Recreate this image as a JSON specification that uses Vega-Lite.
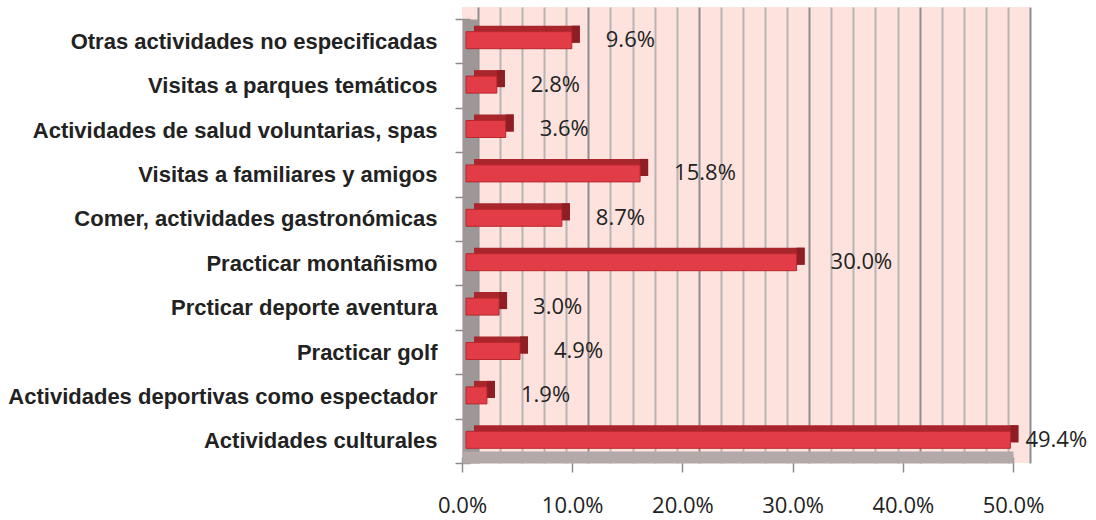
{
  "$schema": "https://vega.github.io/schema/vega-lite/v6.json",
  "width": 568,
  "height": 456,
  "autosize": {"type": "none"},
  "padding": {"left": 462, "top": 7, "right": 66, "bottom": 57},
  "background": "white",
  "config": {
    "view": {"stroke": null, "fill": "#fde2de"},
    "font": "Open Sans"
  },
  "data": {
    "values": [
      {"actividad": "Otras actividades no especificadas", "v": 0.096},
      {"actividad": "Visitas a parques temáticos", "v": 0.028},
      {"actividad": "Actividades de salud voluntarias, spas", "v": 0.036},
      {"actividad": "Visitas a familiares y amigos", "v": 0.158},
      {"actividad": "Comer, actividades gastronómicas", "v": 0.087},
      {"actividad": "Practicar montañismo", "v": 0.300},
      {"actividad": "Prcticar deporte aventura", "v": 0.030},
      {"actividad": "Practicar golf", "v": 0.049},
      {"actividad": "Actividades deportivas como espectador", "v": 0.019},
      {"actividad": "Actividades culturales", "v": 0.494}
    ]
  },
  "resolve": {"scale": {"x": "independent"}, "axis": {"x": "independent"}},
  "layer": [
    {
      "mark": {"type": "rule", "opacity": 0},
      "encoding": {
        "x": {
          "datum": 0,
          "type": "quantitative",
          "scale": {"domain": [0, 0.5], "range": [16, 568], "nice": false, "zero": true},
          "axis": {
            "orient": "top",
            "title": null,
            "labels": false,
            "ticks": false,
            "domain": false,
            "grid": true,
            "gridWidth": 2,
            "gridColor": {"condition": {"test": "round(datum.value * 50) % 5 == 0", "value": "#8e8e8e"}, "value": "#b8b4b4"},
            "values": [0, 0.02, 0.04, 0.06, 0.08, 0.1, 0.12, 0.14, 0.16, 0.18, 0.2, 0.22, 0.24, 0.26, 0.28, 0.3, 0.32, 0.34, 0.36, 0.38, 0.4, 0.42, 0.44, 0.46, 0.48, 0.5]
          }
        }
      }
    },
    {
      "encoding": {
        "y": {
          "field": "actividad",
          "type": "nominal",
          "sort": null,
          "scale": {"range": [12, 456], "paddingInner": 0, "paddingOuter": 0},
          "axis": {
            "orient": "left",
            "title": null,
            "offset": -8,
            "domainWidth": 16,
            "domainColor": "#9d9797",
            "tickBand": "extent",
            "tickSize": 15,
            "tickColor": "#8c8c8c",
            "tickWidth": 1.5,
            "labelPadding": 18,
            "labelFont": "Liberation Sans",
            "labelFontWeight": "bold",
            "labelFontSize": 22,
            "labelColor": "#222222",
            "labelLimit": 600
          }
        },
        "x": {
          "field": "v",
          "type": "quantitative",
          "scale": {"domain": [0, 0.5], "range": [0, 551], "nice": false, "zero": true},
          "axis": {
            "orient": "bottom",
            "title": null,
            "zindex": 1,
            "offset": -6,
            "domainWidth": 12,
            "domainColor": "#b3a9a9",
            "tickSize": 15,
            "tickColor": "#8c8c8c",
            "tickWidth": 1.5,
            "labelPadding": 23,
            "labelFlush": false,
            "labelFont": "Open Sans",
            "labelFontSize": 22,
            "labelColor": "#222222",
            "format": ".1%",
            "grid": false,
            "values": [0, 0.1, 0.2, 0.3, 0.4, 0.5]
          }
        }
      },
      "layer": [
        {
          "mark": {"type": "bar", "size": 17, "color": "#a8262c", "xOffset": 12, "x2Offset": 8, "yOffset": -7}
        },
        {
          "mark": {"type": "bar", "size": 17, "color": "#8e1e23", "xOffset": 4, "x2Offset": 12, "yOffset": -7},
          "encoding": {"x2": {"field": "v"}}
        },
        {
          "mark": {"type": "bar", "size": 17, "color": "#e23d46", "stroke": "#b8272e", "strokeWidth": 1, "xOffset": 4, "x2Offset": 4, "yOffset": -1}
        },
        {
          "transform": [{"filter": "datum.v < 0.45"}],
          "mark": {"type": "text", "align": "left", "baseline": "middle", "dx": 38, "dy": -1, "font": "Open Sans", "fontSize": 22, "color": "#222222"},
          "encoding": {"text": {"field": "v", "type": "quantitative", "format": ".1%"}}
        },
        {
          "transform": [{"filter": "datum.v >= 0.45"}],
          "mark": {"type": "text", "align": "left", "baseline": "middle", "dx": 19, "dy": -1, "font": "Open Sans", "fontSize": 22, "color": "#222222"},
          "encoding": {"text": {"field": "v", "type": "quantitative", "format": ".1%"}}
        }
      ]
    }
  ]
}
